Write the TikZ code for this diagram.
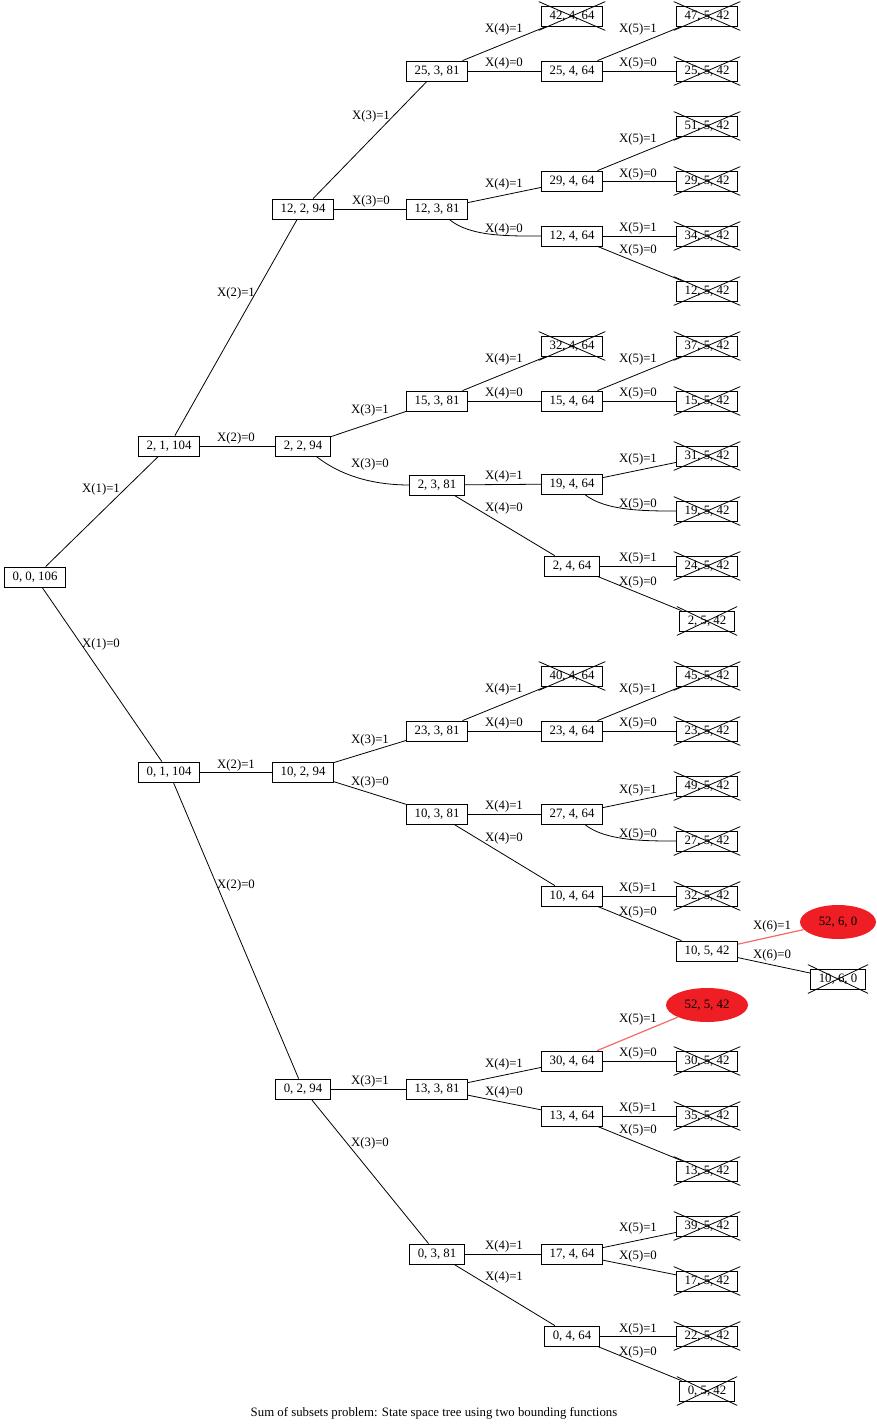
\documentclass[tikz,border=0pt]{standalone}
\usepackage{fontspec}
\setmainfont{Liberation Serif}
\usetikzlibrary{shapes.geometric}
\definecolor{hitred}{RGB}{238,30,36}
\definecolor{hitedge}{RGB}{245,105,105}

\begin{document}
\begin{tikzpicture}[x=1pt,y=-1pt,line width=0.8pt,
  font=\fontsize{12.8}{15}\selectfont,
  state/.style={draw, rectangle, inner xsep=8pt, inner ysep=2pt, minimum height=20pt},
  pruned/.style={state, append after command={([shift={(-2.5,-4)}]\tikzlastnode.north west) edge ([shift={(2.5,4)}]\tikzlastnode.south east) ([shift={(2.5,-4)}]\tikzlastnode.north east) edge ([shift={(-2.5,4)}]\tikzlastnode.south west)}},
  goal/.style={ellipse, fill=hitred, inner sep=0pt, minimum height=34pt},
  lab/.style={inner sep=0pt},
  hit/.style={draw=hitedge, line width=1.2pt}]
\useasboundingbox (0,0) rectangle (877,1427);
\node[state] (v0k0) at (35,577) {0, 0, 106};
\node[state] (v2k1) at (169,446) {2, 1, 104};
\node[state] (v0k1) at (169,772) {0, 1, 104};
\node[state] (v12k2) at (303,209) {12, 2, 94};
\node[state] (v2k2) at (303,446) {2, 2, 94};
\node[state] (v10k2) at (303,772) {10, 2, 94};
\node[state] (v0k2) at (303,1089) {0, 2, 94};
\node[state] (v25k3) at (437,71) {25, 3, 81};
\node[state] (v12k3) at (437,209) {12, 3, 81};
\node[state] (v15k3) at (437,401) {15, 3, 81};
\node[state] (v2k3) at (437,485) {2, 3, 81};
\node[state] (v23k3) at (437,731) {23, 3, 81};
\node[state] (v10k3) at (437,814) {10, 3, 81};
\node[state] (v13k3) at (437,1089) {13, 3, 81};
\node[state] (v0k3) at (437,1254) {0, 3, 81};
\node[pruned] (v42k4) at (572,16) {42, 4, 64};
\node[state] (v25k4) at (572,71) {25, 4, 64};
\node[state] (v29k4) at (572,181) {29, 4, 64};
\node[state] (v12k4) at (572,236) {12, 4, 64};
\node[pruned] (v32k4) at (572,346) {32, 4, 64};
\node[state] (v15k4) at (572,401) {15, 4, 64};
\node[state] (v19k4) at (572,484) {19, 4, 64};
\node[state] (v2k4) at (572,566) {2, 4, 64};
\node[pruned] (v40k4) at (572,676) {40, 4, 64};
\node[state] (v23k4) at (572,731) {23, 4, 64};
\node[state] (v27k4) at (572,814) {27, 4, 64};
\node[state] (v10k4) at (572,896) {10, 4, 64};
\node[state] (v30k4) at (572,1061) {30, 4, 64};
\node[state] (v13k4) at (572,1116) {13, 4, 64};
\node[state] (v17k4) at (572,1254) {17, 4, 64};
\node[state] (v0k4) at (572,1336) {0, 4, 64};
\node[pruned] (v47k5) at (707,16) {47, 5, 42};
\node[pruned] (v25k5) at (707,71) {25, 5, 42};
\node[pruned] (v51k5) at (707,126) {51, 5, 42};
\node[pruned] (v29k5) at (707,181) {29, 5, 42};
\node[pruned] (v34k5) at (707,236) {34, 5, 42};
\node[pruned] (v12k5) at (707,291) {12, 5, 42};
\node[pruned] (v37k5) at (707,346) {37, 5, 42};
\node[pruned] (v15k5) at (707,401) {15, 5, 42};
\node[pruned] (v31k5) at (707,456) {31, 5, 42};
\node[pruned] (v19k5) at (707,511) {19, 5, 42};
\node[pruned] (v24k5) at (707,566) {24, 5, 42};
\node[pruned] (v2k5) at (707,621) {2, 5, 42};
\node[pruned] (v45k5) at (707,676) {45, 5, 42};
\node[pruned] (v23k5) at (707,731) {23, 5, 42};
\node[pruned] (v49k5) at (707,786) {49, 5, 42};
\node[pruned] (v27k5) at (707,841) {27, 5, 42};
\node[pruned] (v32k5) at (707,896) {32, 5, 42};
\node[state] (v10k5) at (707,951) {10, 5, 42};
\node[goal, minimum width=82pt] (v52k5) at (707,1005) {52, 5, 42};
\node[pruned] (v30k5) at (707,1061) {30, 5, 42};
\node[pruned] (v35k5) at (707,1116) {35, 5, 42};
\node[pruned] (v13k5) at (707,1171) {13, 5, 42};
\node[pruned] (v39k5) at (707,1226) {39, 5, 42};
\node[pruned] (v17k5) at (707,1281) {17, 5, 42};
\node[pruned] (v22k5) at (707,1336) {22, 5, 42};
\node[pruned] (v0k5) at (707,1391) {0, 5, 42};
\node[goal, minimum width=76pt] (v52k6) at (838,922) {52, 6, 0};
\node[pruned] (v10k6) at (838,979) {10, 6, 0};
\node (cap) at (434,1413) {Sum of subsets problem: State space tree using two bounding functions};
\draw (v0k0) -- (v2k1) node[lab, at={(101,489)}] {X(1)=1};
\draw (v0k0) -- (v0k1) node[lab, at={(101,644)}] {X(1)=0};
\draw (v2k1) -- (v12k2) node[lab, at={(236,293)}] {X(2)=1};
\draw (v2k1) -- (v2k2) node[lab, at={(236,438)}] {X(2)=0};
\draw (v0k1) -- (v10k2) node[lab, at={(236,765)}] {X(2)=1};
\draw (v0k1) -- (v0k2) node[lab, at={(236,885)}] {X(2)=0};
\draw (v12k2) -- (v25k3) node[lab, at={(371,116)}] {X(3)=1};
\draw (v12k2) -- (v12k3) node[lab, at={(371,201)}] {X(3)=0};
\draw (v2k2) -- (v15k3) node[lab, at={(370,410)}] {X(3)=1};
\draw (v2k2) .. controls (345,479) and (380,485) .. (v2k3) node[lab, at={(370,464)}] {X(3)=0};
\draw (v10k2) -- (v23k3) node[lab, at={(370,740)}] {X(3)=1};
\draw (v10k2) -- (v10k3) node[lab, at={(370,782)}] {X(3)=0};
\draw (v0k2) -- (v13k3) node[lab, at={(370,1081)}] {X(3)=1};
\draw (v0k2) -- (v0k3) node[lab, at={(370,1143)}] {X(3)=0};
\draw (v25k3) -- (v42k4) node[lab, at={(504,29)}] {X(4)=1};
\draw (v25k3) -- (v25k4) node[lab, at={(504,63)}] {X(4)=0};
\draw (v12k3) -- (v29k4) node[lab, at={(504,184)}] {X(4)=1};
\draw (v12k3) .. controls (470,237) and (510,236) .. (v12k4) node[lab, at={(504,229)}] {X(4)=0};
\draw (v15k3) -- (v32k4) node[lab, at={(504,359)}] {X(4)=1};
\draw (v15k3) -- (v15k4) node[lab, at={(504,393)}] {X(4)=0};
\draw (v2k3) -- (v19k4) node[lab, at={(504,476)}] {X(4)=1};
\draw (v2k3) -- (v2k4) node[lab, at={(504,508)}] {X(4)=0};
\draw (v23k3) -- (v40k4) node[lab, at={(504,689)}] {X(4)=1};
\draw (v23k3) -- (v23k4) node[lab, at={(504,723)}] {X(4)=0};
\draw (v10k3) -- (v27k4) node[lab, at={(504,806)}] {X(4)=1};
\draw (v10k3) -- (v10k4) node[lab, at={(504,838)}] {X(4)=0};
\draw (v13k3) -- (v30k4) node[lab, at={(504,1064)}] {X(4)=1};
\draw (v13k3) -- (v13k4) node[lab, at={(504,1092)}] {X(4)=0};
\draw (v0k3) -- (v17k4) node[lab, at={(504,1246)}] {X(4)=1};
\draw (v0k3) -- (v0k4) node[lab, at={(504,1277)}] {X(4)=1};
\draw (v25k4) -- (v47k5) node[lab, at={(638,29)}] {X(5)=1};
\draw (v25k4) -- (v25k5) node[lab, at={(638,63)}] {X(5)=0};
\draw (v29k4) -- (v51k5) node[lab, at={(638,139)}] {X(5)=1};
\draw (v29k4) -- (v29k5) node[lab, at={(638,174)}] {X(5)=0};
\draw (v12k4) -- (v34k5) node[lab, at={(638,228)}] {X(5)=1};
\draw (v12k4) -- (v12k5) node[lab, at={(638,250)}] {X(5)=0};
\draw (v15k4) -- (v37k5) node[lab, at={(638,359)}] {X(5)=1};
\draw (v15k4) -- (v15k5) node[lab, at={(638,393)}] {X(5)=0};
\draw (v19k4) -- (v31k5) node[lab, at={(638,459)}] {X(5)=1};
\draw (v19k4) .. controls (605,511) and (645,511) .. (v19k5) node[lab, at={(638,504)}] {X(5)=0};
\draw (v2k4) -- (v24k5) node[lab, at={(638,558)}] {X(5)=1};
\draw (v2k4) -- (v2k5) node[lab, at={(638,582)}] {X(5)=0};
\draw (v23k4) -- (v45k5) node[lab, at={(638,689)}] {X(5)=1};
\draw (v23k4) -- (v23k5) node[lab, at={(638,723)}] {X(5)=0};
\draw (v27k4) -- (v49k5) node[lab, at={(638,790)}] {X(5)=1};
\draw (v27k4) .. controls (605,841) and (645,841) .. (v27k5) node[lab, at={(638,834)}] {X(5)=0};
\draw (v10k4) -- (v32k5) node[lab, at={(638,888)}] {X(5)=1};
\draw (v10k4) -- (v10k5) node[lab, at={(638,912)}] {X(5)=0};
\draw[hit] (v30k4) -- (v52k5) node[lab, text=black, at={(638,1019)}] {X(5)=1};
\draw (v30k4) -- (v30k5) node[lab, at={(638,1053)}] {X(5)=0};
\draw (v13k4) -- (v35k5) node[lab, at={(638,1108)}] {X(5)=1};
\draw (v13k4) -- (v13k5) node[lab, at={(638,1130)}] {X(5)=0};
\draw (v17k4) -- (v39k5) node[lab, at={(638,1228)}] {X(5)=1};
\draw (v17k4) -- (v17k5) node[lab, at={(638,1256)}] {X(5)=0};
\draw (v0k4) -- (v22k5) node[lab, at={(638,1329)}] {X(5)=1};
\draw (v0k4) -- (v0k5) node[lab, at={(638,1352)}] {X(5)=0};
\draw[hit] (v10k5) -- (v52k6) node[lab, text=black, at={(772,926)}] {X(6)=1};
\draw (v10k5) -- (v10k6) node[lab, at={(772,955)}] {X(6)=0};
\end{tikzpicture}
\end{document}
